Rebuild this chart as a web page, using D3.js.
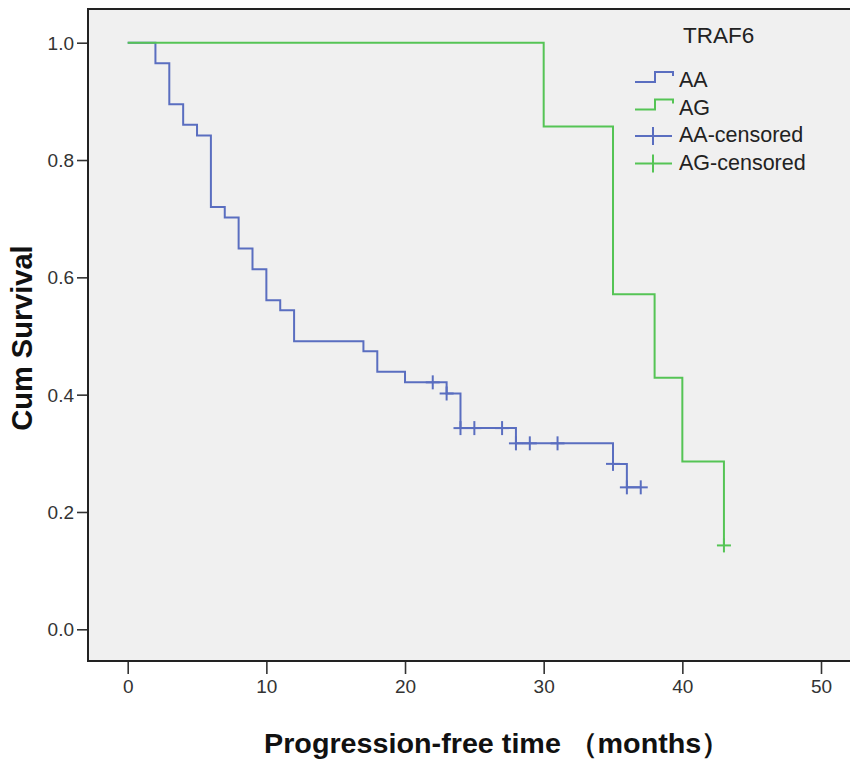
<!DOCTYPE html>
<html lang="en">
<head>
    <meta charset="UTF-8">
    <title>TRAF6 Kaplan-Meier</title>
    <script src="https://d3js.org/d3.v7.min.js"></script>
    <style>
        body { margin: 0; background: #fff; }
        svg { display: block; }
        text { font-family: "Liberation Sans", Arial, sans-serif; }
    </style>
</head>
<body>
<script>
    // data
    var groups = ["AA", "AG"];
    var aaTimes = [0, 2, 3, 4, 5, 6, 7, 8, 9, 10, 11, 12, 17, 18, 20, 23, 24, 28, 35, 36];
    var aaSurv = [1.0, 0.965, 0.895, 0.860, 0.842, 0.720, 0.702, 0.649, 0.614, 0.561, 0.544, 0.491, 0.474, 0.439, 0.421, 0.402, 0.343, 0.317, 0.282, 0.242];
    var aaCensored = [22, 23, 24, 25, 27, 28, 29, 31, 35, 36, 37];
    var agTimes = [0, 30, 35, 38, 40, 43];
    var agSurv = [1.0, 0.857, 0.571, 0.429, 0.286, 0.143];
    var agCensored = [43];
    var xTicks = [0, 10, 20, 30, 40, 50];
    var yTicks = [0, 0.2, 0.4, 0.6, 0.8, 1.0];

    var w = 850, h = 760;
    var colors = { AA: "#5a6ec0", AG: "#55c455" };

    var svg = d3.select("body").append("svg")
        .attr("width", w)
        .attr("height", h);

    var x = d3.scaleLinear().domain([0, 50]).range([127.7, 821]);
    var y = d3.scaleLinear().domain([0, 1]).range([629.3, 42.7]);

    // plot frame
    svg.append("rect")
        .attr("x", 88).attr("y", 9)
        .attr("width", 770).attr("height", 652)
        .attr("fill", "#f0f0f0")
        .attr("stroke", "#222")
        .attr("stroke-width", 2);

    // axes
    var yAxis = svg.append("g")
        .attr("transform", "translate(87,0)")
        .call(d3.axisLeft(y).tickValues(yTicks).tickSize(10).tickPadding(3).tickFormat(d3.format(".1f")));
    yAxis.select(".domain").remove();
    yAxis.selectAll("line").attr("stroke", "#333").attr("stroke-width", 1.6);
    yAxis.selectAll("text").attr("font-size", 19).attr("fill", "#333")
        .attr("font-family", "'Liberation Sans', Arial, sans-serif").attr("dy", "0.35em");

    var xAxis = svg.append("g")
        .attr("transform", "translate(0,662)")
        .call(d3.axisBottom(x).tickValues(xTicks).tickSize(12).tickPadding(6));
    xAxis.select(".domain").remove();
    xAxis.selectAll("line").attr("stroke", "#333").attr("stroke-width", 1.6);
    xAxis.selectAll("text").attr("font-size", 19).attr("fill", "#333")
        .attr("font-family", "'Liberation Sans', Arial, sans-serif");

    // axis titles
    svg.append("text")
        .attr("transform", "translate(32,338) rotate(-90)")
        .attr("text-anchor", "middle")
        .attr("font-size", 29)
        .attr("font-weight", "bold")
        .attr("fill", "#111")
        .text("Cum Survival");

    svg.append("text")
        .attr("x", 264).attr("y", 753)
        .attr("font-size", 28)
        .attr("font-weight", "bold")
        .attr("fill", "#111")
        .attr("textLength", 466)
        .attr("lengthAdjust", "spacingAndGlyphs")
        .text("Progression-free time （months）");

    // survival curves
    var series = [
        { name: "AA", times: aaTimes, surv: aaSurv, cens: aaCensored, end: 37 },
        { name: "AG", times: agTimes, surv: agSurv, cens: agCensored, end: 43 }
    ];

    var line = d3.line()
        .x(function(d) { return x(d[0]); })
        .y(function(d) { return y(d[1]); })
        .curve(d3.curveStepAfter);

    function survAt(s, t) {
        var v = s.surv[0];
        for (var i = 0; i < s.times.length; i++) {
            if (s.times[i] <= t) v = s.surv[i];
        }
        return v;
    }

    series.forEach(function(s) {
        var pts = s.times.map(function(t, i) { return [t, s.surv[i]]; });
        pts.push([s.end, s.surv[s.surv.length - 1]]);
        svg.append("path")
            .datum(pts)
            .attr("d", line)
            .attr("fill", "none")
            .attr("stroke", colors[s.name])
            .attr("stroke-width", 2);

        var g = svg.append("g").attr("stroke", colors[s.name]).attr("stroke-width", 2);
        s.cens.forEach(function(t) {
            var cx = x(t), cy = y(survAt(s, t));
            g.append("line").attr("x1", cx - 7).attr("x2", cx + 7).attr("y1", cy).attr("y2", cy);
            g.append("line").attr("x1", cx).attr("x2", cx).attr("y1", cy - 7).attr("y2", cy + 7);
        });
    });

    // legend
    svg.append("text")
        .attr("x", 683).attr("y", 43)
        .attr("font-size", 22.5)
        .attr("fill", "#222")
        .text("TRAF6");

    var legendItems = [
        { label: "AA", group: "AA", kind: "step" },
        { label: "AG", group: "AG", kind: "step" },
        { label: "AA-censored", group: "AA", kind: "cross" },
        { label: "AG-censored", group: "AG", kind: "cross" }
    ];

    var leg = svg.append("g").attr("transform", "translate(635,0)");
    legendItems.forEach(function(d, i) {
        var base = 87 + i * 27.5;
        var mid = base - 6;
        var item = leg.append("g");
        if (d.kind === "step") {
            item.append("path")
                .attr("d", "M0," + (mid + 1) + "H20V" + (mid - 9) + "H38V" + (mid - 5))
                .attr("fill", "none")
                .attr("stroke", colors[d.group])
                .attr("stroke-width", 2);
        } else {
            item.append("line").attr("x1", 0).attr("x2", 37).attr("y1", mid).attr("y2", mid)
                .attr("stroke", colors[d.group]).attr("stroke-width", 2);
            item.append("line").attr("x1", 18).attr("x2", 18).attr("y1", mid - 9).attr("y2", mid + 9)
                .attr("stroke", colors[d.group]).attr("stroke-width", 2);
        }
        item.append("text")
            .attr("x", 44).attr("y", base)
            .attr("font-size", 21.5)
            .attr("fill", "#222")
            .text(d.label);
    });
</script>
</body>
</html>
